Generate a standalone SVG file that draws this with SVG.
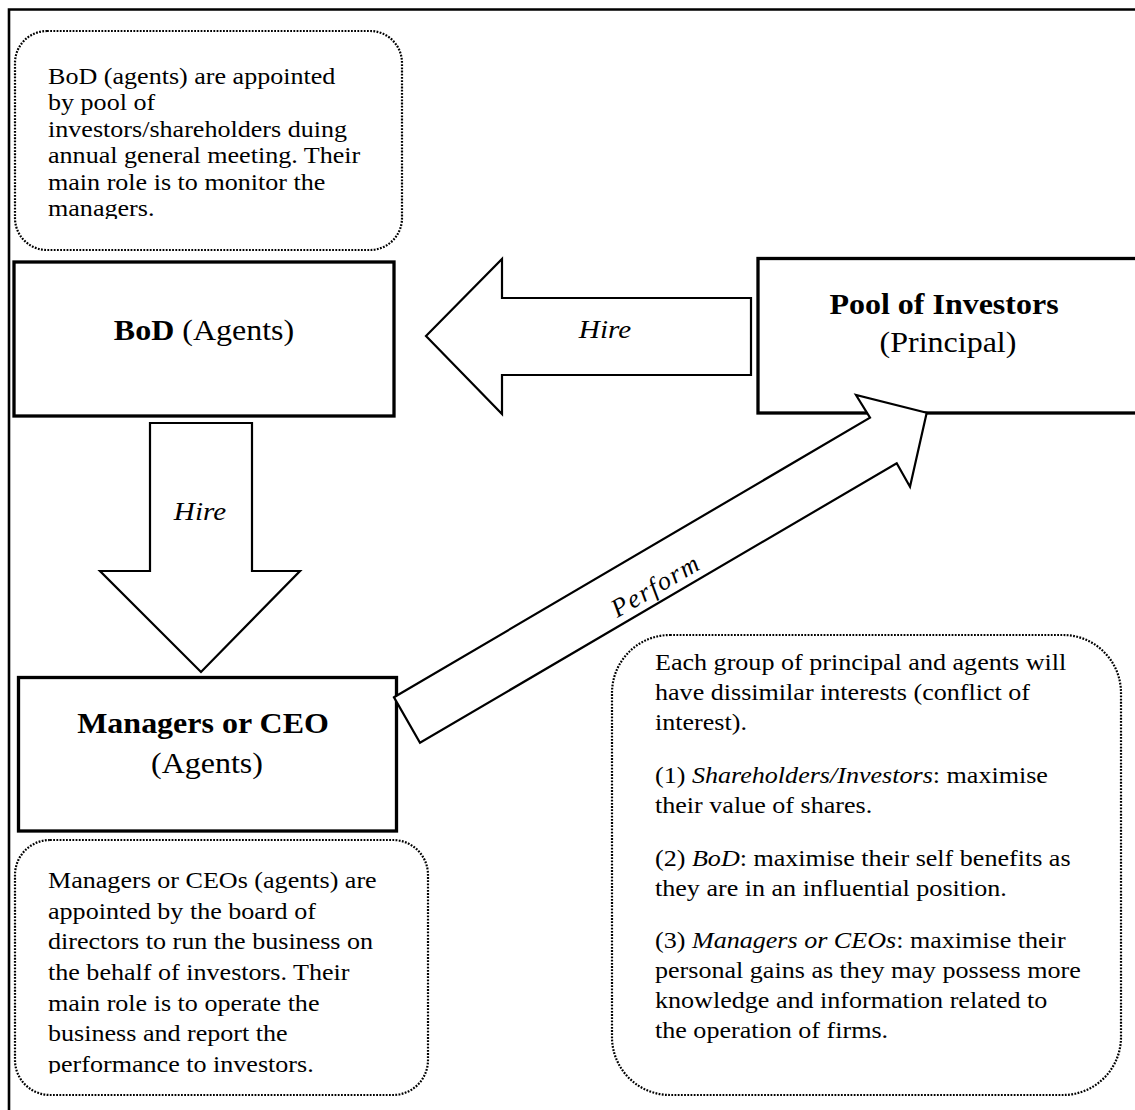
<svg xmlns="http://www.w3.org/2000/svg" width="1135" height="1110" viewBox="0 0 1135 1110">
  <style>
    .frame { fill: none; stroke: #000; stroke-width: 2.6; }
    .node { fill: #fff; stroke: #000; stroke-width: 3.3; }
    .note { fill: none; stroke: #000; stroke-width: 2.2; stroke-dasharray: 1.8 1.4; }
    .arrow { fill: #fff; stroke: #000; stroke-width: 2.2; stroke-linejoin: miter; }
    text { font-family: "Liberation Serif", "Times New Roman", serif; fill: #000; }
    .body { font-size: 23.5px; }
    .title { font-size: 28.7px; }
    .b { font-weight: bold; }
    .i { font-style: italic; }
    .lbl { font-size: 26px; font-style: italic; }
  </style>
  <defs>
    <clipPath id="clip-bod-note"><rect x="15" y="31" width="387" height="188"/></clipPath>
    <clipPath id="clip-mgr-note"><rect x="15" y="840" width="413" height="233.5"/></clipPath>
  </defs>

  <rect x="0" y="0" width="1135" height="1110" fill="#fff"/>
  <path class="frame" d="M9,1110 V9.5 H1135"/>

  <!-- explanatory notes -->
  <g id="note-bod">
    <rect class="note" x="15" y="31" width="387" height="219" rx="32"/>
    <g clip-path="url(#clip-bod-note)">
      <text class="body" transform="matrix(1.11 0 0 1 48 0)">
        <tspan x="0" y="84">BoD (agents) are appointed</tspan>
        <tspan x="0" y="110.5">by pool of</tspan>
        <tspan x="0" y="137">investors/shareholders duing</tspan>
        <tspan x="0" y="163.5">annual general meeting. Their</tspan>
        <tspan x="0" y="190">main role is to monitor the</tspan>
        <tspan x="0" y="216.5">managers.</tspan>
      </text>
    </g>
  </g>

  <g id="note-managers">
    <rect class="note" x="15" y="840" width="413" height="255" rx="35"/>
    <g clip-path="url(#clip-mgr-note)">
      <text class="body" transform="matrix(1.11 0 0 1 48 0)">
        <tspan x="0" y="888">Managers or CEOs (agents) are</tspan>
        <tspan x="0" y="918.7">appointed by the board of</tspan>
        <tspan x="0" y="949.4">directors to run the business on</tspan>
        <tspan x="0" y="980">the behalf of investors. Their</tspan>
        <tspan x="0" y="1010.8">main role is to operate the</tspan>
        <tspan x="0" y="1041.5">business and report the</tspan>
        <tspan x="0" y="1072.2">performance to investors.</tspan>
      </text>
    </g>
  </g>

  <g id="note-interests">
    <rect class="note" x="612" y="635" width="509" height="460" rx="58"/>
    <text class="body" transform="matrix(1.11 0 0 1 655 0)">
      <tspan x="0" y="670">Each group of principal and agents will</tspan>
      <tspan x="0" y="700">have dissimilar interests (conflict of</tspan>
      <tspan x="0" y="730">interest).</tspan>
      <tspan x="0" y="783">(1) <tspan class="i">Shareholders/Investors</tspan>: maximise</tspan>
      <tspan x="0" y="813">their value of shares.</tspan>
      <tspan x="0" y="866">(2) <tspan class="i">BoD</tspan>: maximise their self benefits as</tspan>
      <tspan x="0" y="896">they are in an influential position.</tspan>
      <tspan x="0" y="948">(3) <tspan class="i">Managers or CEOs</tspan>: maximise their</tspan>
      <tspan x="0" y="978">personal gains as they may possess more</tspan>
      <tspan x="0" y="1008">knowledge and information related to</tspan>
      <tspan x="0" y="1038">the operation of firms.</tspan>
    </text>
  </g>

  <!-- parties -->
  <g id="node-bod">
    <rect class="node" x="14" y="262" width="380" height="154"/>
    <text class="title" text-anchor="middle" transform="matrix(1.115 0 0 1 204 0)"><tspan x="0" y="340"><tspan class="b">BoD</tspan> (Agents)</tspan></text>
  </g>

  <g id="node-investors">
    <rect class="node" x="758" y="258.5" width="380" height="154.5"/>
    <text class="title" text-anchor="middle" transform="matrix(1.115 0 0 1 948 0)">
      <tspan class="b" x="0" y="314">Pool of Investors</tspan>
      <tspan x="0" y="352">(Principal)</tspan>
    </text>
  </g>

  <g id="node-managers">
    <rect class="node" x="18.5" y="677.5" width="378" height="153.5"/>
    <text class="title" text-anchor="middle" transform="matrix(1.115 0 0 1 207 0)">
      <tspan class="b" x="0" y="733">Managers or CEO</tspan>
      <tspan x="0" y="773">(Agents)</tspan>
    </text>
  </g>

  <!-- block arrows between parties -->
  <g id="connectors">
    <g id="hire-bod">
      <polygon class="arrow" points="426,336 502,259 502,298 751,298 751,375 502,375 502,414"/>
      <text class="lbl" text-anchor="middle" transform="matrix(1.12 0 0 1 605 0)"><tspan x="0" y="338">Hire</tspan></text>
    </g>
    <g id="hire-managers">
      <polygon class="arrow" points="150,423 252,423 252,571 300,571 201,672 100,571 150,571"/>
      <text class="lbl" text-anchor="middle" transform="matrix(1.12 0 0 1 200 0)"><tspan x="0" y="520">Hire</tspan></text>
    </g>
    <g id="perform">
      <polygon class="arrow" points="394,697.3 870,417.7 856,395 926.7,412.7 910,486.7 896.7,463.3 420,742.7"/>
      <text class="lbl" text-anchor="middle" letter-spacing="1.8" font-size="27" transform="translate(660 593) rotate(-30.4)">Perform</text>
    </g>
  </g>
</svg>
